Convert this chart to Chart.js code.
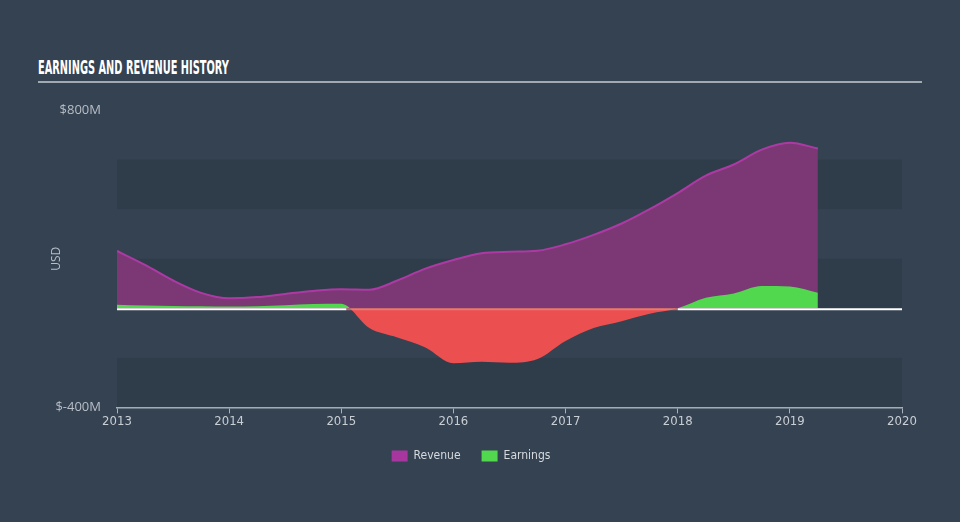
<!DOCTYPE html>
<html>
<head>
<meta charset="utf-8">
<script src="https://cdn.jsdelivr.net/npm/chart.js@4"></script>
<style>
  html, body { margin: 0; padding: 0; }
  body { width: 960px; height: 522px; background: #344252; position: relative; overflow: hidden; }
  #title { position: absolute; left: 38px; top: 57px; color: #fff; font-family: 'Liberation Sans Narrow', 'DejaVu Sans Condensed', sans-serif;
    font-weight: bold; font-size: 20px; line-height: 20px; transform-origin: 0 0; white-space: nowrap; }
  #rule { position: absolute; left: 38px; top: 81px; width: 884px; height: 2px; background: #a3a9b1; }
  #wrap { position: absolute; left: 0; top: 0; width: 960px; height: 522px; }
</style>
</head>
<body>
<div id="title">EARNINGS AND REVENUE HISTORY</div>
<div id="rule"></div>
<div id="wrap"><canvas id="chart" width="960" height="522"></canvas></div>
<script>
// quarterly points, values in $M
const years = [2013, 2013.25, 2013.5, 2013.75, 2014, 2014.25, 2014.5, 2014.75, 2015, 2015.25, 2015.5, 2015.75,
  2016, 2016.25, 2016.5, 2016.75, 2017, 2017.25, 2017.5, 2017.75, 2018, 2018.25, 2018.5, 2018.75, 2019, 2019.25];
const revenue = [231, 175, 112, 62, 40, 45, 58, 70, 77, 75, 112, 160,
  195, 222, 228, 232, 258, 296, 342, 400, 465, 535, 580, 640, 668, 645];
const earnings = [14, 11, 9, 8, 7, 8, 12, 17, 18, -80, -118, -158,
  -222, -216, -220, -205, -132, -80, -52, -22, 0, 42, 60, 90, 88, 63];
const yTickLabels = { 800: '$800M', '-400': '$-400M' };

// squeeze the title into its width
const t = document.getElementById('title');
t.style.transform = 'scaleX(' + (191 / t.offsetWidth) + ')';

const bands = {
    id: 'bands',
    beforeDatasetsDraw(chart) {
        const { ctx, chartArea, scales } = chart;
        const y = scales.y;
        ctx.save();
        ctx.fillStyle = 'rgba(0,0,0,0.085)';
        for (let v = -400; v < 800; v += 400) {
            const top = y.getPixelForValue(v + 200);
            const bot = y.getPixelForValue(v);
            ctx.fillRect(chartArea.left, top, chartArea.right - chartArea.left, bot - top);
        }
        ctx.restore();
    },
    afterDatasetsDraw(chart) {
        // zero line on top, tinted where earnings dip below it
        const { ctx, chartArea, scales } = chart;
        const z = scales.y.getPixelForValue(0) + 1;
        const x = scales.x;
        let segs = [];
        let start = years[0];
        for (let i = 1; i < years.length; i++) {
            const a = earnings[i - 1], b = earnings[i];
            if ((a >= 0) !== (b >= 0)) {
                const c = years[i - 1] + (years[i] - years[i - 1]) * a / (a - b);
                segs.push([start, c, a >= 0]);
                start = c;
            }
        }
        segs.push([start, 2020, earnings[earnings.length - 1] >= 0]);
        ctx.save();
        ctx.lineWidth = 2;
        for (const [s, e, pos] of segs) {
            ctx.strokeStyle = pos ? '#ffffff' : 'rgba(255,140,140,0.6)';
            ctx.beginPath();
            ctx.moveTo(x.getPixelForValue(s), z);
            ctx.lineTo(x.getPixelForValue(e), z);
            ctx.stroke();
        }
        ctx.restore();
    }
};

const ctx = document.getElementById('chart').getContext('2d');
const chart = new Chart(ctx, {
    type: 'line',
    data: {
        datasets: [
            {
                label: 'Revenue',
                data: years.map((x, i) => ({ x: x, y: revenue[i] })),
                borderColor: '#ad3aa4',
                backgroundColor: '#a8369f',
                borderWidth: 2,
                fill: { target: 'origin', above: '#7b3875', below: '#7b3875' },
                pointRadius: 0,
                cubicInterpolationMode: 'monotone',
                order: 1
            },
            {
                label: 'Earnings',
                data: years.map((x, i) => ({ x: x, y: earnings[i] })),
                borderColor: 'rgba(0,0,0,0)',
                backgroundColor: '#52d84f',
                borderWidth: 0,
                fill: { target: 'origin', above: '#52d84f', below: '#eb4f4f' },
                pointRadius: 0,
                cubicInterpolationMode: 'monotone',
                order: 0
            }
        ]
    },
    options: {
        responsive: false,
        animation: false,
        layout: { padding: { left: 40, right: 58, top: 110, bottom: 50 } },
        plugins: {
            tooltip: { enabled: false },
            legend: {
                position: 'bottom',
                labels: {
                    color: '#d6dade',
                    boxWidth: 16,
                    boxHeight: 11,
                    padding: 21,
                    font: { family: "'Liberation Sans Narrow', 'DejaVu Sans Condensed', sans-serif", size: 12 },
                    generateLabels(chart) {
                        return chart.data.datasets.map((d, i) => ({
                            text: d.label,
                            fillStyle: d.backgroundColor,
                            strokeStyle: d.backgroundColor,
                            lineWidth: 0,
                            datasetIndex: i,
                            fontColor: '#d6dade'
                        }));
                    }
                }
            }
        },
        scales: {
            x: {
                type: 'linear',
                min: 2013,
                max: 2020,
                ticks: {
                    stepSize: 1,
                    color: '#c9ced4',
                    padding: 0,
                    font: { family: "'Liberation Sans Narrow', 'DejaVu Sans Condensed', sans-serif", size: 13 },
                    callback: v => String(v)
                },
                grid: { display: true, drawOnChartArea: false, color: '#a9b2bc', tickLength: 6 },
                border: { display: true, color: '#a9b2bc', width: 1.5 }
            },
            y: {
                min: -400,
                max: 800,
                afterFit(scale) { scale.width = 77; },
                ticks: {
                    stepSize: 200,
                    color: '#b8bec6',
                    padding: 8,
                    font: { family: "'Open Sans', sans-serif", size: 13 },
                    callback: v => yTickLabels[v] || ''
                },
                grid: { display: false },
                border: { display: false },
                title: {
                    display: true,
                    text: 'USD',
                    color: '#b8bec6',
                    padding: { top: 9, bottom: 0 },
                    font: { family: "'Open Sans', sans-serif", size: 12 }
                }
            }
        }
    },
    plugins: [bands]
});
</script>
</body>
</html>
